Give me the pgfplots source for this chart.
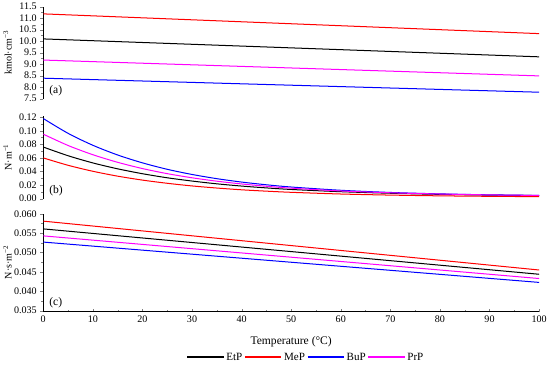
\documentclass[border=0pt]{standalone}
\usepackage{fontspec}
\setmainfont{Liberation Serif}
\usepackage{pgfplots}
\pgfplotsset{compat=1.18}
\definecolor{mymag}{RGB}{255,0,255}
\definecolor{myred}{RGB}{255,0,0}
\definecolor{myblue}{RGB}{0,0,255}

\pgfplotsset{
  panel/.style={
    scale only axis, width=491bp, xmin=0, xmax=100,
    axis y line=left, y axis line style={-},
    tick align=outside,
    minor y tick num=1,
    scaled y ticks=false,
    tick label style={font=\fontsize{10}{12}\selectfont},
    label style={font=\fontsize{11.5}{13}\selectfont},
    /pgf/number format/assume math mode=true,
    every axis y label/.style={at={(axis description cs:-0.072,0.5)}, rotate=90, anchor=center},
    major tick length=3bp, minor tick length=1.8bp,
    every axis plot/.append style={line width=1pt},
  }
}
\pgfplotsset{longline/.style={legend image code/.code={\draw[##1, line width=1.3pt] (0bp,0bp) -- (36bp,0bp);}}}

\begin{document}
\begin{tikzpicture}
% (a)
\begin{axis}[panel, at={(0,0)}, anchor=north west, height=91bp,
  axis x line=none,
  ymin=7.5, ymax=11.5, ytick={7.5,8,8.5,9,9.5,10,10.5,11,11.5},
  yticklabel style={/pgf/number format/.cd, fixed, fixed zerofill, precision=1},
  ylabel={kmol·cm\textsuperscript{−3}}]
\addplot[color=black] coordinates {(0,10.10) (100,9.32)};
\addplot[color=myred] coordinates {(0,11.19) (100,10.33)};
\addplot[color=myblue] coordinates {(0,8.39) (100,7.78)};
\addplot[color=mymag] coordinates {(0,9.18) (100,8.49)};
\node[anchor=south west, font=\fontsize{11.5}{13}\selectfont] at (axis description cs:0.005,-0.01) {(a)};
\end{axis}
% (b)
\begin{axis}[panel, at={(0,-108bp)}, anchor=north west, height=82bp,
  axis x line=none,
  ymin=0, ymax=0.122, ytick={0,0.02,0.04,0.06,0.08,0.10,0.12},
  yticklabel style={/pgf/number format/.cd, fixed, fixed zerofill, precision=2},
  ylabel={N·m\textsuperscript{−1}}]
\addplot[color=black, smooth] coordinates {(0,0.076) (5,0.0632) (10,0.0526) (15,0.0439) (20,0.0367) (25,0.0307) (30,0.0259) (35,0.0218) (40,0.0185) (45,0.0158) (50,0.0135) (60,0.0102) (70,0.0079) (80,0.0063) (90,0.0052) (100,0.0045)};
\addplot[color=myred, smooth] coordinates {(0,0.060) (5,0.0491) (10,0.0403) (15,0.0331) (20,0.0273) (25,0.0226) (30,0.0187) (35,0.0156) (40,0.0130) (45,0.0110) (50,0.0093) (60,0.0068) (70,0.0052) (80,0.0041) (90,0.0034) (100,0.0029)};
\addplot[color=myblue, smooth] coordinates {(0,0.118) (5,0.0962) (10,0.0786) (15,0.0643) (20,0.0527) (25,0.0432) (30,0.0356) (35,0.0294) (40,0.0244) (45,0.0204) (50,0.0171) (60,0.0123) (70,0.0091) (80,0.0070) (90,0.0056) (100,0.0047)};
\addplot[color=mymag, smooth] coordinates {(0,0.095) (5,0.0783) (10,0.0647) (15,0.0535) (20,0.0443) (25,0.0368) (30,0.0307) (35,0.0257) (40,0.0216) (45,0.0182) (50,0.0154) (60,0.0113) (70,0.0086) (80,0.0068) (90,0.0055) (100,0.0047)};
\node[anchor=south west, font=\fontsize{11.5}{13}\selectfont] at (axis description cs:0.005,-0.01) {(b)};
\end{axis}
% (c)
\begin{axis}[panel, at={(0,-205bp)}, anchor=north west, height=96bp,
  axis x line=bottom, x axis line style={-},
  xtick={0,10,20,30,40,50,60,70,80,90,100}, minor x tick num=1,
  ymin=0.035, ymax=0.060, ytick={0.035,0.040,0.045,0.050,0.055,0.060},
  yticklabel style={/pgf/number format/.cd, fixed, fixed zerofill, precision=3},
  ylabel={N·s·m\textsuperscript{−2}},
  xlabel={Temperature (°C)},
  xlabel style={yshift=-7bp},
  legend style={at={(0.53,-0.39)}, anchor=north, legend columns=4, draw=none,
    font=\fontsize{11}{13}\selectfont,
    /tikz/every even column/.append style={column sep=0bp},
    /tikz/every odd column/.append style={column sep=0bp}}]
\addlegendimage{longline, draw=black}
\addlegendimage{longline, draw=myred}
\addlegendimage{longline, draw=myblue}
\addlegendimage{longline, draw=mymag}
\addplot[color=black, forget plot] coordinates {(0,0.0561) (100,0.0444)};
\addplot[color=myred, forget plot] coordinates {(0,0.0581) (100,0.0455)};
\addplot[color=myblue, forget plot] coordinates {(0,0.0527) (100,0.0423)};
\addplot[color=mymag, forget plot] coordinates {(0,0.0543) (100,0.0433)};
\legend{EtP,MeP,BuP,PrP}
\node[anchor=south west, font=\fontsize{11.5}{13}\selectfont] at (axis description cs:0.005,-0.01) {(c)};
\end{axis}
\end{tikzpicture}
\end{document}
